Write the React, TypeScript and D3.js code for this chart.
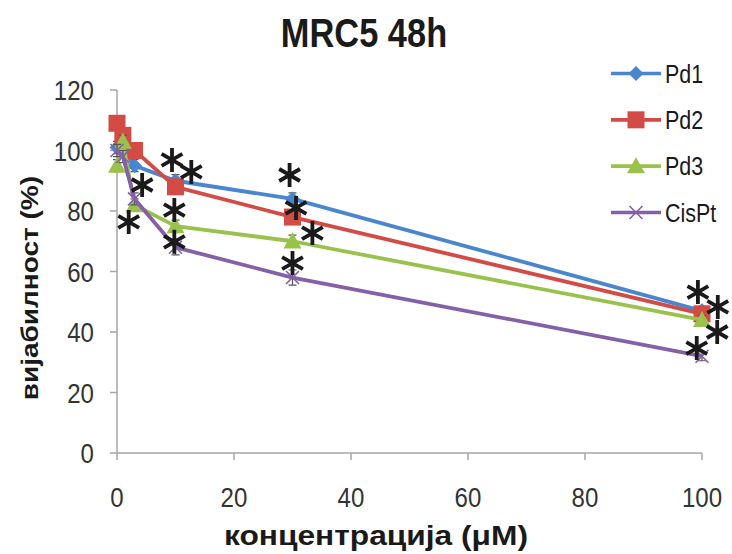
import React from "react";
import * as d3 from "d3";

const concentrations = [0, 1, 3, 10, 30, 100];
const pd1 = [101, 100, 95, 90, 84, 47];
const pd2 = [109, 105, 100, 88, 78, 46];
const pd3 = [95, 103, 82, 75, 70, 44];
const cisPt = [100, 98, 84, 68, 58, 32];
const pd1Err = [2, 2, 2, 2, 2, 1.5];
const pd2Err = [2, 2, 2, 2, 2, 1.5];
const pd3Err = [2, 2, 2, 2, 2, 1.5];
const cisPtErr = [2, 2, 2, 2.5, 2.5, 1.5];
const seriesNames = ["Pd1", "Pd2", "Pd3", "CisPt"];
const seriesColors = ["#4A86D0", "#D24B45", "#99C24D", "#8560A8"];
const seriesMarkers = ["diamond", "square", "triangle", "cross"];
const xTicks = [0, 20, 40, 60, 80, 100];
const yTicks = [0, 20, 40, 60, 80, 100, 120];
const starX = [4.3, 2.0, 9.4, 12.7, 9.8, 9.8, 29.5, 30.6, 33.4, 30.0, 99.3, 102.7, 102.6, 99.1];
const starY = [88.6, 76.4, 96.9, 92.9, 80.3, 69.8, 91.9, 81, 72.7, 62.8, 53.2, 48.3, 40, 34.7];

const title = "MRC5 48h";
const xTitle = "концентрација (μM)";
const yTitle = "вијабилност (%)";

const FONT = "'Liberation Sans', Arial, sans-serif";
const SX = 0.86;

function Marker({ kind, x, y, color }: { kind: string; x: number; y: number; color: string }) {
  if (kind === "diamond") {
    const r = 7.5;
    return <path d={`M${x},${y - r}L${x + r},${y}L${x},${y + r}L${x - r},${y}Z`} fill={color} />;
  }
  if (kind === "square") {
    const s = 8.5;
    return <rect x={x - s} y={y - s} width={2 * s} height={2 * s} fill={color} />;
  }
  if (kind === "triangle") {
    const s = 9;
    return <path d={`M${x},${y - s}L${x + s},${y + s * 0.8}L${x - s},${y + s * 0.8}Z`} fill={color} />;
  }
  const r = 6.5;
  return (
    <path
      d={`M${x - r},${y - r}L${x + r},${y + r}M${x - r},${y + r}L${x + r},${y - r}`}
      stroke={color}
      strokeWidth={1.6}
      fill="none"
    />
  );
}

function Star({ x, y }: { x: number; y: number }) {
  const r = 12;
  const parts: string[] = [];
  [90, 30, -30].forEach((a) => {
    const rad = (a * Math.PI) / 180;
    const dx = r * Math.cos(rad);
    const dy = r * Math.sin(rad);
    parts.push(`M${x - dx},${y + dy}L${x + dx},${y - dy}`);
  });
  return <path d={parts.join("")} stroke="#1a1a1a" strokeWidth={3.8} fill="none" />;
}

export default function App() {
  const W = 732;
  const H = 554;
  const x = d3.scaleLinear().domain([0, 100]).range([117, 702]);
  const y = d3.scaleLinear().domain([0, 120]).range([453, 90]);
  const allSeries = [pd1, pd2, pd3, cisPt];
  const allErr = [pd1Err, pd2Err, pd3Err, cisPtErr];
  const line = d3
    .line<number>()
    .x((_, i) => x(concentrations[i]))
    .y((d) => y(d));

  const legendX0 = 611;
  const legendX1 = 661;
  const legendY = d3.scaleLinear().domain([0, 3]).range([73.5, 212.5]);

  return (
    <svg
      width={W}
      height={H}
      style={{ position: "absolute", left: 0, top: 0, background: "#fff" }}
      fontFamily={FONT}
    >
      <rect x={0} y={0} width={W} height={H} fill="#fff" />
      {/* title */}
      <g transform={`translate(364,47) scale(${SX},1)`}>
        <text textAnchor="middle" fontSize={40} fontWeight="bold" fill="#1a1a1a">
          {title}
        </text>
      </g>

      {/* axes */}
      <line x1={x(0)} x2={x(0)} y1={y(0)} y2={y(120)} stroke="#a6a6a6" strokeWidth={1.5} />
      <line x1={x(0)} x2={x(100)} y1={y(0)} y2={y(0)} stroke="#a6a6a6" strokeWidth={1.5} />
      {yTicks.map((t) => (
        <g key={"yt" + t}>
          <line x1={x(0) - 7} x2={x(0)} y1={y(t)} y2={y(t)} stroke="#a6a6a6" strokeWidth={1.5} />
          <g transform={`translate(94,${y(t)}) scale(${SX},1)`}>
            <text textAnchor="end" dy="0.36em" fontSize={28} fill="#333">
              {t}
            </text>
          </g>
        </g>
      ))}
      {xTicks.map((t) => (
        <g key={"xt" + t}>
          <line x1={x(t)} x2={x(t)} y1={y(0)} y2={y(0) + 7} stroke="#a6a6a6" strokeWidth={1.5} />
          <g transform={`translate(${x(t)},${y(0) + 44}) scale(${SX},1)`}>
            <text textAnchor="middle" dy="0.36em" fontSize={28} fill="#333">
              {t}
            </text>
          </g>
        </g>
      ))}

      {/* axis titles */}
      <text
        x={376}
        y={535}
        textAnchor="middle"
        dy="0.36em"
        fontSize={28}
        fontWeight="bold"
        fill="#1a1a1a"
        textLength={304}
        lengthAdjust="spacingAndGlyphs"
      >
        {xTitle}
      </text>
      <g transform={`translate(29,${y(54.5)}) scale(${SX},1) rotate(-90)`}>
        <text textAnchor="middle" dy="0.36em" fontSize={28} fontWeight="bold" fill="#1a1a1a">
          {yTitle}
        </text>
      </g>

      {/* series */}
      {allSeries.map((s, si) => (
        <g key={"s" + si}>
          {s.map((v, i) => {
            const e = allErr[si][i];
            const cx = x(concentrations[i]);
            return (
              <path
                key={"e" + i}
                d={`M${cx},${y(v - e)}L${cx},${y(v + e)}M${cx - 4},${y(v - e)}L${cx + 4},${y(v - e)}M${cx - 4},${y(v + e)}L${cx + 4},${y(v + e)}`}
                stroke="#555"
                strokeWidth={1.2}
                fill="none"
              />
            );
          })}
          <path d={line(s) || ""} fill="none" stroke={seriesColors[si]} strokeWidth={3.8} strokeLinejoin="round" />
          {s.map((v, i) => (
            <Marker key={"m" + i} kind={seriesMarkers[si]} x={x(concentrations[i])} y={y(v)} color={seriesColors[si]} />
          ))}
        </g>
      ))}

      {/* asterisks */}
      {starX.map((sx, i) => (
        <Star key={"st" + i} x={x(sx)} y={y(starY[i])} />
      ))}

      {/* legend */}
      {seriesNames.map((n, i) => (
        <g key={"lg" + i}>
          <line x1={legendX0} x2={legendX1} y1={legendY(i)} y2={legendY(i)} stroke={seriesColors[i]} strokeWidth={3.6} />
          <Marker kind={seriesMarkers[i]} x={(legendX0 + legendX1) / 2} y={legendY(i)} color={seriesColors[i]} />
          <g transform={`translate(665,${legendY(i)}) scale(${SX},1)`}>
            <text dy="0.36em" fontSize={25} fill="#1a1a1a">
              {n}
            </text>
          </g>
        </g>
      ))}
    </svg>
  );
}
